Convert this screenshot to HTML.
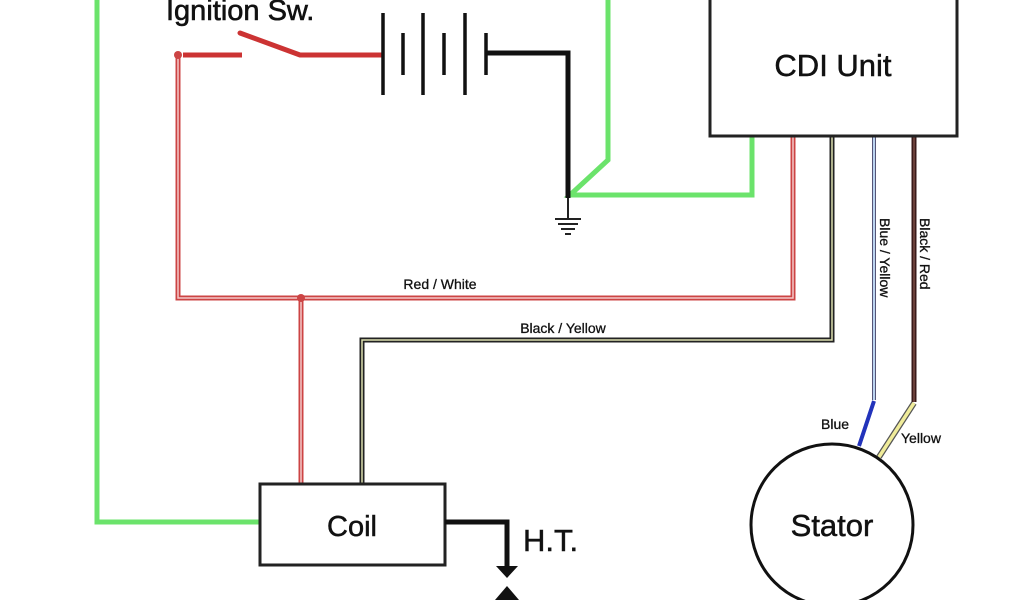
<!DOCTYPE html>
<html><head><style>body{margin:0;background:#fff;}svg{display:block}</style></head><body>
<svg width="1024" height="600" viewBox="0 0 1024 600" xmlns="http://www.w3.org/2000/svg" font-family="Liberation Sans, Arial, sans-serif">
<rect width="1024" height="600" fill="#fff"/>
<polyline points="97,0 97,522 260,522" fill="none" stroke="#6be36b" stroke-width="5"/>
<polyline points="608,0 608,160 570,195 752,195 752,137" fill="none" stroke="#6be36b" stroke-width="5"/>
<polyline points="178,55 178,298 793,298 793,137" fill="none" stroke="#c44" stroke-width="5"/>
<polyline points="178,55 178,298 793,298 793,137" fill="none" stroke="#f4c8c8" stroke-width="1.5"/>
<line x1="301" y1="298" x2="301" y2="484" stroke="#c44" stroke-width="5"/>
<line x1="301" y1="298" x2="301" y2="484" stroke="#f4c8c8" stroke-width="1.5"/>
<circle cx="301" cy="298" r="4" fill="#c44"/>
<circle cx="178" cy="55" r="4" fill="#c44"/>
<line x1="183" y1="55" x2="242" y2="55" stroke="#c33" stroke-width="5"/>
<line x1="240" y1="33" x2="300" y2="55" stroke="#c33" stroke-width="5" stroke-linecap="round"/>
<line x1="300" y1="55" x2="383" y2="55" stroke="#c33" stroke-width="5"/>
<g stroke="#111" stroke-width="3.5">
<line x1="383" y1="13" x2="383" y2="95"/><line x1="423" y1="13" x2="423" y2="95"/><line x1="465" y1="13" x2="465" y2="95"/>
<line x1="403" y1="33" x2="403" y2="75"/><line x1="444" y1="33" x2="444" y2="75"/><line x1="486" y1="33" x2="486" y2="75"/>
</g>
<polyline points="486,53 568,53 568,198" fill="none" stroke="#111" stroke-width="5"/>
<g stroke="#222" stroke-width="2"><line x1="568" y1="198" x2="568" y2="218"/><line x1="555" y1="219" x2="581" y2="219"/><line x1="558" y1="224" x2="578" y2="224"/><line x1="561" y1="229" x2="575" y2="229"/><line x1="565" y1="234" x2="571" y2="234"/></g>
<text x="166" y="20" font-size="29" fill="#111" stroke="#111" stroke-width="0.6">Ignition Sw.</text>
<polyline points="832,137 832,340 362,340 362,484" fill="none" stroke="#222" stroke-width="5"/>
<polyline points="832,137 832,340 362,340 362,484" fill="none" stroke="#dde0b0" stroke-width="1.5"/>
<line x1="874" y1="137" x2="874" y2="400" stroke="#557" stroke-width="4"/>
<line x1="874" y1="137" x2="874" y2="400" stroke="#bcd4f0" stroke-width="2"/>
<line x1="874" y1="401" x2="859" y2="446" stroke="#2233bb" stroke-width="4"/>
<line x1="914" y1="137" x2="914" y2="402" stroke="#3a1a1a" stroke-width="5"/>
<line x1="914" y1="137" x2="914" y2="402" stroke="#8a5a50" stroke-width="1.2"/>
<line x1="914" y1="403" x2="879" y2="457" stroke="#555" stroke-width="6"/>
<line x1="914" y1="403" x2="879" y2="457" stroke="#f0ec9a" stroke-width="3.5"/>
<rect x="710" y="-5" width="247" height="141" fill="#fff" stroke="#222" stroke-width="3"/>
<text x="833" y="76" font-size="31" text-anchor="middle" fill="#111" stroke="#111" stroke-width="0.5">CDI Unit</text>
<g fill="#111" stroke="#111" stroke-width="0.3">
<text x="440" y="289" font-size="14" text-anchor="middle">Red / White</text>
<text x="563" y="333" font-size="14" text-anchor="middle">Black / Yellow</text>
<text font-size="14" transform="translate(880,218) rotate(90)">Blue / Yellow</text>
<text font-size="14" transform="translate(920,218) rotate(90)">Black / Red</text>
<text x="821" y="429" font-size="14">Blue</text>
<text x="901" y="443" font-size="14">Yellow</text>
</g>
<circle cx="832" cy="525" r="81" fill="none" stroke="#111" stroke-width="3"/>
<text x="832" y="536" font-size="31" text-anchor="middle" fill="#111" stroke="#111" stroke-width="0.5">Stator</text>
<rect x="260" y="484" width="185" height="81" fill="#fff" stroke="#222" stroke-width="3"/>
<text x="352" y="536" font-size="29" text-anchor="middle" fill="#111" stroke="#111" stroke-width="0.5">Coil</text>
<polyline points="445,522 507,522 507,570" fill="none" stroke="#111" stroke-width="5"/>
<polygon points="496,566 518,566 507,578" fill="#111"/>
<polygon points="495,600 507,586 519,600" fill="#111"/>
<text x="523" y="551" font-size="31" fill="#111" stroke="#111" stroke-width="0.5">H.T.</text>
</svg>
</body></html>
